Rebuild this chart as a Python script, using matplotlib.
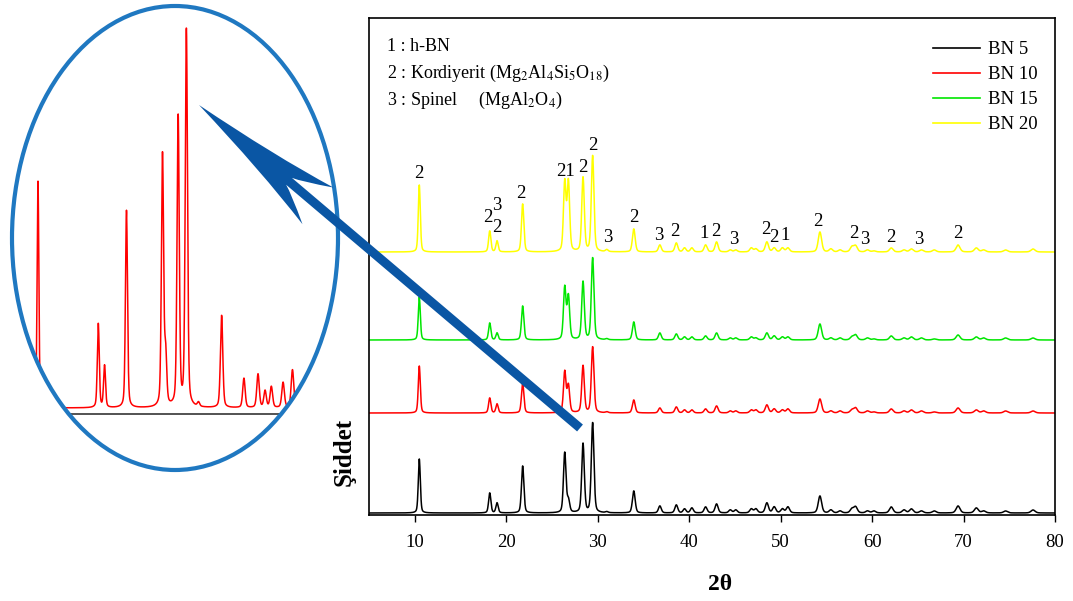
import numpy as np
import matplotlib
matplotlib.use("Agg")
import matplotlib.pyplot as plt
from matplotlib.lines import Line2D
from matplotlib.patches import Ellipse, PathPatch
from matplotlib.path import Path
from matplotlib.transforms import Affine2D

plt.rcParams['font.family'] = ['Liberation Serif', 'DejaVu Serif']
plt.rcParams['mathtext.fontset'] = 'stix'

# peak positions (2theta) and intensities (a.u.)
peak_pos = [10.5, 18.2, 19.0, 21.8, 26.4, 26.8, 28.4, 29.45, 31.0, 33.95,
            36.8, 38.6, 39.5, 40.3, 41.8, 43.0, 44.5, 45.1, 46.8, 47.3,
            48.5, 49.3, 50.2, 50.8, 54.3, 55.5, 56.5, 57.8, 58.2, 59.5,
            60.2, 62.1, 63.5, 64.3, 65.4, 66.8, 69.4, 71.4, 72.2, 74.6, 77.6]
bn5 = [54, 20, 10, 47, 60, 12, 69, 90, 1, 22, 7, 8, 4, 5, 6, 9, 3, 3, 4, 4,
       10, 6, 4, 6, 17, 3, 2, 4, 6, 2, 2, 6, 3, 4, 2, 2, 7, 5, 2, 2, 3]
bn10 = [47, 15, 9, 30, 41, 27, 47, 66, 1, 13, 5, 6, 3, 3, 4, 7, 2, 2, 3, 3,
        8, 4, 3, 4, 14, 2, 2, 3, 5, 2, 1, 4, 2, 3, 2, 1, 5, 3, 2, 2, 2]
bn15 = [43, 17, 7, 34, 52, 43, 58, 82, 1, 18, 7, 6, 3, 3, 4, 7, 2, 2, 3, 2,
        7, 4, 3, 3, 16, 2, 2, 3, 5, 2, 1, 4, 2, 3, 2, 1, 5, 3, 2, 2, 2]
bn20 = [67, 21, 11, 48, 69, 69, 74, 96, 2, 23, 7, 9, 4, 4, 7, 10, 2, 2, 4, 3,
        10, 4, 4, 4, 20, 3, 2, 5, 6, 2, 1, 4, 2, 3, 2, 2, 7, 4, 2, 2, 3]
samples = ['BN 5', 'BN 10', 'BN 15', 'BN 20']
offsets = [2, 102, 175, 263]
colors = ['black', '#ff0000', '#00e600', '#ffff00']

# phase labels over the BN 20 pattern: (2theta, height, label)
lab_x = [10.4, 18.0, 19.0, 19.0, 21.6, 26.45, 28.35, 29.45, 31.1, 33.9, 36.7,
         38.45, 41.6, 42.9, 44.9, 48.4, 49.3, 50.5, 54.1, 57.95, 59.2, 62.0,
         65.1, 69.4]
lab_y = [342, 297, 309, 288, 322, 343, 348, 370, 277, 297, 280, 283, 282,
         283, 276, 285, 278, 279, 293, 281, 276, 278, 275, 282]
lab_t = ['2', '2', '3', '2', '2', '21', '2', '2', '3', '2', '3', '2', '1',
         '2', '3', '2', '2', '1', '2', '2', '3', '2', '3', '2']

x = np.arange(5, 80.001, 0.02)


def pattern(heights):
    y = np.zeros_like(x)
    for p, h in zip(peak_pos, heights):
        w = 0.26 + 0.004 * (p - 10)
        d = (x - p) / w
        y += h * (0.65 * np.exp(-4 * np.log(2) * d ** 2) + 0.35 / (1 + 4 * d ** 2))
    return y


W, H = 1073, 601
fig = plt.figure(figsize=(W / 100, H / 100), dpi=100)
pix = Affine2D().scale(1 / W, -1 / H).translate(0, 1) + fig.transFigure

ax = fig.add_axes([369 / W, 1 - 515 / H, 686 / W, 497 / H])
for data, off, c in zip([bn5, bn10, bn15, bn20], offsets, colors):
    ax.plot(x, pattern(data) + off, color=c, lw=1.1)
ax.set_xlim(5, 80)
ax.set_ylim(0, 497)
ax.set_xticks(range(10, 81, 10))
ax.set_yticks([])
ax.tick_params(axis='x', direction='out', length=5, width=1, pad=9, labelsize=13.5)
for s in ax.spines.values():
    s.set_linewidth(1.2)

for lx, ly, lt in zip(lab_x, lab_y, lab_t):
    ax.text(lx, ly, lt, ha='center', va='center', fontsize=13.5)

ax.text(0.026, 0.942, '1 : h-BN', transform=ax.transAxes, va='center', fontsize=13)
ax.text(0.026, 0.889, r'2 : Kordiyerit (Mg$_2$Al$_4$Si$_5$O$_{18}$)',
        transform=ax.transAxes, va='center', fontsize=13)
ax.text(0.026, 0.835, r'3 : Spinel     (MgAl$_2$O$_4$)',
        transform=ax.transAxes, va='center', fontsize=13)

handles = [Line2D([], [], color=c, lw=1.2) for c in colors]
ax.legend(handles, samples, loc='upper right', bbox_to_anchor=(0.975, 0.953),
          frameon=False, fontsize=13.5, handlelength=2.5, handletextpad=0.45,
          labelspacing=0.42, borderaxespad=0, borderpad=0)

fig.text(720 / W, 1 - 585 / H, '2θ', ha='center', va='center',
         fontsize=17, fontweight='bold')
fig.text(344 / W, 1 - 452 / H, 'Şiddet', rotation=90, ha='center', va='center',
         fontsize=18, fontweight='bold')

# zoomed inset of the lower pattern, clipped to the ellipse
ell = Ellipse((175, 238), 326, 464, transform=pix, fill=False,
              edgecolor='#1f78c1', lw=3, zorder=5)
fig.add_artist(ell)
ins = fig.add_axes([0, 1 - 480 / H, 360 / W, 480 / H])
ins.set_xlim(10.5 - 38 / 7.83, 10.5 + 322 / 7.83)
ins.set_ylim(-72 / 4.2, 408 / 4.2)
ins.axis('off')
l1, = ins.plot(x, pattern(bn5), color='#ff0000', lw=1.1)
l2 = ins.axhline(-1.4, color='#444444', lw=1.3)
clip = Ellipse((175, 238), 326, 464, transform=pix)
for ln in (l1, l2):
    ln.set_clip_path(clip)

# blue arrow from the main chart into the ellipse
tail = np.array([580.0, 428.0])
tip = np.array([199.0, 105.0])
u = (tip - tail) / np.linalg.norm(tip - tail)
n = np.array([-u[1], u[0]])
total = np.linalg.norm(tip - tail)


def P(s, t):
    return tip - u * s + n * t


verts = [P(0, 0), P(90, 10), P(156, 24), P(128, 8), P(118, 4.5),
         P(total, 4.5), P(total, -4.5), P(118, -4.5), P(128, -8), P(156, -24),
         P(90, -10), P(0, 0), P(0, 0)]
codes = [Path.MOVETO, Path.CURVE3, Path.CURVE3, Path.CURVE3, Path.CURVE3,
         Path.LINETO, Path.LINETO, Path.LINETO, Path.CURVE3, Path.CURVE3,
         Path.CURVE3, Path.CURVE3, Path.CLOSEPOLY]
fig.add_artist(PathPatch(Path(verts, codes), transform=pix, facecolor='#0a56a4',
                         edgecolor='none', zorder=10))

fig.savefig('out.png', dpi=100)
